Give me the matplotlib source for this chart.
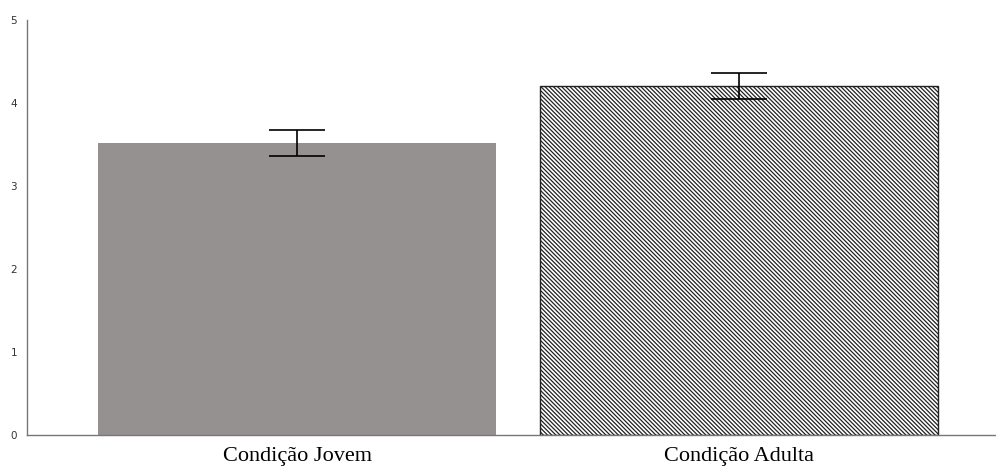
import matplotlib
matplotlib.use("Agg")
import matplotlib.pyplot as plt

categories = ["Condição Jovem", "Condição Adulta"]
means = [3.52, 4.20]
err_low = [0.16, 0.15]
err_high = [0.15, 0.16]
yticks = [0, 1, 2, 3, 4, 5]

W, H = 996, 466
fig = plt.figure(figsize=(W / 100, H / 100), dpi=100)
ax = fig.add_axes([27 / W, 31 / H, (996 - 27) / W, (435 - 20) / H])

x = list(range(len(categories)))
plt.rcParams['hatch.linewidth'] = 0.9
ax.bar(x[0], means[0], width=0.9, color="#959190", edgecolor="none")
ax.bar(x[1], means[1], width=0.9, color="white", edgecolor="#222222",
       hatch="\\" * 8, linewidth=1.0)
ax.errorbar(x, means, yerr=[err_low, err_high], fmt="none", ecolor="black",
            elinewidth=1.2, capsize=20, capthick=1.2)

ax.set_xlim(-0.611, 1.581)
ax.set_ylim(0, 5)
ax.set_yticks(yticks)
ax.set_yticklabels([str(v) for v in yticks], fontsize=7.5, color="#333333")
ax.set_xticks(x)
ax.set_xticklabels(categories, fontsize=16, family="Liberation Serif")
ax.tick_params(axis="both", length=0)
ax.tick_params(axis="y", pad=7)
ax.tick_params(axis="x", pad=9)

for s in ["top", "right"]:
    ax.spines[s].set_visible(False)
for s in ["left", "bottom"]:
    ax.spines[s].set_color("#777777")
    ax.spines[s].set_linewidth(1.0)

fig.savefig("out.png", dpi=100)
